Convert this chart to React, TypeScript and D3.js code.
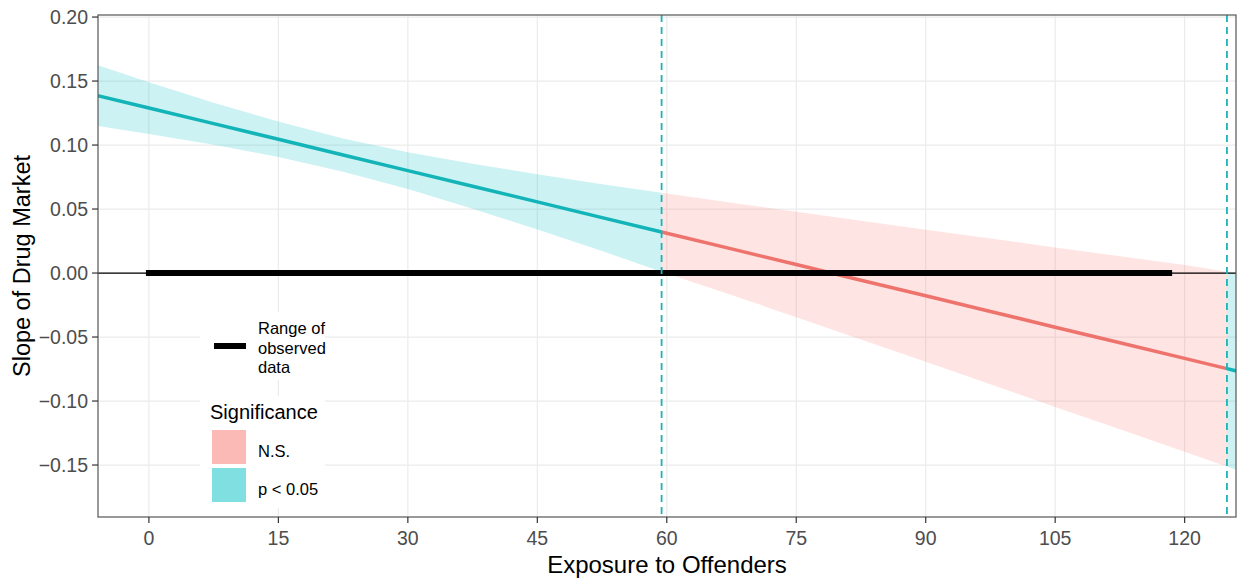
import * as d3 from 'd3'

const bandX = [-6, 0, 7.5, 15, 22.5, 30, 37.5, 45, 52.5, 59.4, 67.5, 75, 82.5, 90, 97.5, 105, 112.5, 120, 124.9, 126]
const fitY = [0.1387, 0.1289, 0.1167, 0.1045, 0.0922, 0.08, 0.0678, 0.0556, 0.0433, 0.0321, 0.0189, 0.0067, -0.0056, -0.0178, -0.03, -0.0423, -0.0545, -0.0667, -0.0747, -0.0765]
const lowerY = [0.1149, 0.1087, 0.1003, 0.0907, 0.0792, 0.0656, 0.0503, 0.034, 0.0172, 0.001, -0.0171, -0.0345, -0.052, -0.0694, -0.0869, -0.1046, -0.1221, -0.1397, -0.1512, -0.1538]
const upperY = [0.1625, 0.1491, 0.1331, 0.1183, 0.1052, 0.0944, 0.0853, 0.0772, 0.0694, 0.0627, 0.0549, 0.0479, 0.0408, 0.0338, 0.0269, 0.02, 0.0131, 0.0063, 0.001, -0.0008]

// significance regions (Johnson-Neyman boundaries at 59.4 and 124.9)
const segStart = [-6, 59.4, 124.9]
const segEnd = [59.4, 124.9, 126]
const segSig = ['p < 0.05', 'N.S.', 'p < 0.05']
const jnBounds = [59.4, 124.9]

const observedRange = [0, 118.2]

const xTicks = [0, 15, 30, 45, 60, 75, 90, 105, 120]
const yTicks = [0.2, 0.15, 0.1, 0.05, 0, -0.05, -0.1, -0.15]

const sigLevels = ['N.S.', 'p < 0.05']
const lineColor: Record<string, string> = { 'N.S.': '#ee736c', 'p < 0.05': '#12b4b8' }
const fillColor: Record<string, string> = { 'N.S.': '#F8766D', 'p < 0.05': '#00BFC4' }

const W = 1237
const H = 580
const panel = { left: 98, right: 1236, top: 15, bottom: 517 }
const font = '"Liberation Sans", Arial, sans-serif'

export default function App() {
  const x = d3.scaleLinear().domain([-5.9, 125.95]).range([panel.left, panel.right])
  const y = d3.scaleLinear().domain([0.2016, -0.1906]).range([panel.top, panel.bottom])

  const pts = bandX.map((bx, i) => ({ x: bx, fit: fitY[i], lo: lowerY[i], hi: upperY[i] }))
  type P = typeof pts[number]

  const area = d3.area<P>().x(d => x(d.x)).y0(d => y(d.lo)).y1(d => y(d.hi))
  const line = d3.line<P>().x(d => x(d.x)).y(d => y(d.fit))

  const segs = segStart.map((s, i) => ({
    sig: segSig[i],
    pts: pts.filter(p => p.x >= s - 1e-9 && p.x <= segEnd[i] + 1e-9),
  }))

  return (
    <svg width={W} height={H} style={{ position: 'absolute', left: 0, top: 0, background: '#fff' }} fontFamily={font}>
      <defs>
        <clipPath id="panel">
          <rect x={panel.left} y={panel.top} width={panel.right - panel.left} height={panel.bottom - panel.top} />
        </clipPath>
      </defs>
      <rect x={panel.left} y={panel.top} width={panel.right - panel.left} height={panel.bottom - panel.top} fill="#fff" />

      {/* grid */}
      {yTicks.map(t => (
        <line key={'gy' + t} x1={panel.left} x2={panel.right} y1={y(t)} y2={y(t)} stroke="#ebebeb" strokeWidth={1.2} />
      ))}
      {xTicks.map(t => (
        <line key={'gx' + t} x1={x(t)} x2={x(t)} y1={panel.top} y2={panel.bottom} stroke="#ebebeb" strokeWidth={1.2} />
      ))}

      <g clipPath="url(#panel)">
        {/* ribbons */}
        {segs.map((s, i) => (
          <path key={'r' + i} d={area(s.pts) || ''} fill={fillColor[s.sig]} fillOpacity={0.2} />
        ))}
        {/* fitted slope */}
        {segs.map((s, i) => (
          <path key={'l' + i} d={line(s.pts) || ''} fill="none" stroke={lineColor[s.sig]} strokeWidth={3.5} />
        ))}
        {/* zero line */}
        <line x1={panel.left} x2={panel.right} y1={y(0)} y2={y(0)} stroke="#000" strokeWidth={1.2} />
        {/* range of observed data */}
        <line x1={x(observedRange[0])} x2={x(observedRange[1])} y1={y(0)} y2={y(0)} stroke="#000" strokeWidth={6} strokeLinecap="square" />
        {/* JN boundaries */}
        {jnBounds.map(b => (
          <line key={'jn' + b} x1={x(b)} x2={x(b)} y1={panel.top} y2={panel.bottom} stroke="#1fb2b6" strokeWidth={1.8} strokeDasharray="7 5" />
        ))}
      </g>

      {/* legends */}
      <rect x={200} y={312} width={125} height={68} fill="#fff" />
      <line x1={214} x2={246} y1={346} y2={346} stroke="#000" strokeWidth={6} />
      {['Range of', 'observed', 'data'].map((t, i) => (
        <text key={t} x={258} y={334 + i * 19.5} fontSize={16.5} fill="#000">{t}</text>
      ))}

      <rect x={200} y={396} width={125} height={112} fill="#fff" />
      <text x={210} y={419} fontSize={20} fill="#000">Significance</text>
      {sigLevels.map((s, i) => (
        <g key={s}>
          <rect x={212} y={430 + i * 38} width={34} height={34} fill={fillColor[s]} fillOpacity={0.5} />
          <text x={258} y={453 + i * 38} fontSize={16.5} fill="#000" dominantBaseline="middle">{s}</text>
        </g>
      ))}

      {/* panel border */}
      <rect x={panel.left} y={panel.top} width={panel.right - panel.left} height={panel.bottom - panel.top} fill="none" stroke="#555" strokeWidth={1.2} />

      {/* y axis */}
      {yTicks.map(t => (
        <g key={'ty' + t}>
          <line x1={panel.left - 6} x2={panel.left} y1={y(t)} y2={y(t)} stroke="#333" strokeWidth={1.2} />
          <text x={panel.left - 10} y={y(t)} dy="0.35em" textAnchor="end" fontSize={19.5} fill="#4d4d4d">{d3.format('.2f')(t)}</text>
        </g>
      ))}
      {/* x axis */}
      {xTicks.map(t => (
        <g key={'tx' + t}>
          <line x1={x(t)} x2={x(t)} y1={panel.bottom} y2={panel.bottom + 6} stroke="#333" strokeWidth={1.2} />
          <text x={x(t)} y={545} textAnchor="middle" fontSize={19.5} fill="#4d4d4d">{t}</text>
        </g>
      ))}

      <text x={(panel.left + panel.right) / 2} y={573} textAnchor="middle" fontSize={24} fill="#000">Exposure to Offenders</text>
      <text transform={`translate(30,${(panel.top + panel.bottom) / 2}) rotate(-90)`} textAnchor="middle" fontSize={23.5} fill="#000">Slope of Drug Market</text>
    </svg>
  )
}
